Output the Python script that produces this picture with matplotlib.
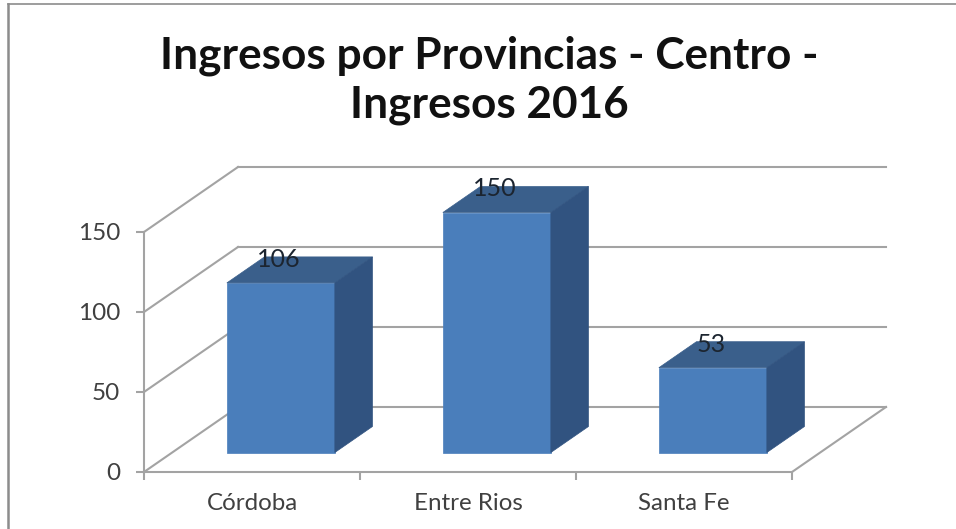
import matplotlib
matplotlib.use('Agg')
import matplotlib.pyplot as plt
from matplotlib.lines import Line2D

plt.rcParams['font.family'] = ['Lato', 'DejaVu Sans']

W, H = 956, 529

FRONT = '#4a7ebb'
TOP = '#3a5f8b'
SIDE = '#315380'
GRID = '#a3a3a3'
TICKTXT = '#404040'

provincias = ['Córdoba', 'Entre Rios', 'Santa Fe']
ingresos = [106, 150, 53]
yticks = [0, 50, 100, 150]
titulo = 'Ingresos por Provincias - Centro -\nIngresos 2016'

# depth of the fake 3d box, in data units
DX = 94 / 216.0
DY = 65 / 1.6
BAR_W = 0.5
LW = 1.5

fig = plt.figure(figsize=(W / 100, H / 100), dpi=100)
ax = fig.add_axes([144.0 / W, 1 - 472.0 / H, 648.0 / W, 240.0 / H])
ax.set_xlim(0, 3)
ax.set_ylim(0, 150)
ax.patch.set_alpha(0)

for s in ['top', 'right']:
    ax.spines[s].set_visible(False)
for s in ['left', 'bottom']:
    ax.spines[s].set_color(GRID)
    ax.spines[s].set_linewidth(LW)

ax.set_yticks(yticks)
ax.set_xticks([0, 1, 2, 3])
ax.set_xticklabels([])
ax.set_xticks([0.5, 1.5, 2.5], labels=provincias, minor=True)
ax.tick_params(axis='x', which='major', length=6, width=LW, color=GRID)
ax.tick_params(axis='x', which='minor', length=0, labelsize=17.4, labelcolor=TICKTXT, pad=15)
ax.tick_params(axis='y', length=6, width=LW, color=GRID, labelsize=17.5, labelcolor=TICKTXT, pad=11)

# walls and floor
for v in yticks:
    ax.plot([0, DX], [v, v + DY], color=GRID, lw=LW, clip_on=False, zorder=1)
    ax.plot([DX, 3 + DX], [v + DY, v + DY], color=GRID, lw=LW, clip_on=False, zorder=1)
ax.plot([3, 3 + DX], [0, DY], color=GRID, lw=LW, clip_on=False, zorder=1)

# bars sit between 30% and 70% of the depth
for i, v in enumerate(ingresos):
    x0 = i + 0.5 - BAR_W / 2 + 0.307 * DX
    x1 = x0 + BAR_W
    y0 = 0.3 * DY
    y1 = y0 + v
    dx = 0.4 * DX
    dy = 0.4 * DY
    ax.fill([x0, x1, x1, x0], [y0, y0, y1, y1], color=FRONT, lw=0.5, clip_on=False, zorder=3)
    ax.fill([x0, x1, x1 + dx, x0 + dx], [y1, y1, y1 + dy, y1 + dy], color=TOP, lw=0.5, clip_on=False, zorder=3)
    ax.fill([x1, x1 + dx, x1 + dx, x1], [y0, y0 + dy, y1 + dy, y1], color=SIDE, lw=0.5, clip_on=False, zorder=3)
    ax.annotate(str(v), xy=((x0 + x1) / 2, y1), xytext=(-1.5, 17), textcoords='offset points',
                ha='center', va='center', fontsize=18, color='#1c2530', zorder=5, annotation_clip=False)

fig.text(489 / W, 1 - 80 / H, titulo, ha='center', va='center', fontsize=31.8, fontweight='bold',
         color='#111111', linespacing=1.26)

# frame of the screenshot
fig.add_artist(Line2D([7.5 / W, 7.5 / W], [0, 1 - 3.5 / H], color='#8c8c8c', lw=1.8))
fig.add_artist(Line2D([7.5 / W, 1], [1 - 3.5 / H, 1 - 3.5 / H], color='#8c8c8c', lw=1.2))

fig.savefig('out.png', dpi=100)
